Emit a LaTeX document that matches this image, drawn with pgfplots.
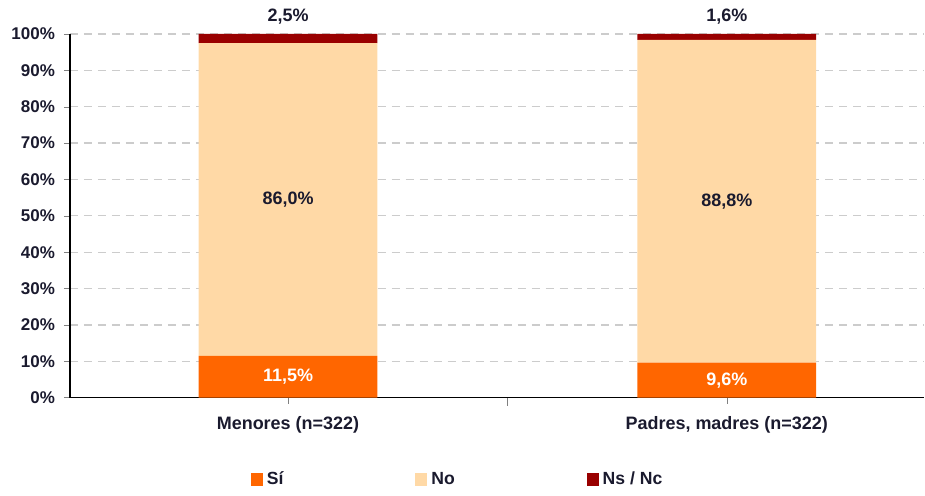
\documentclass[border=0pt]{standalone}
\usepackage{pgfplots}
\pgfplotsset{compat=1.18}
\usepackage{fontspec}
\setmainfont{Liberation Sans}
\definecolor{cSi}{HTML}{FF6600}
\definecolor{cNo}{HTML}{FFD9A6}
\definecolor{cNs}{HTML}{990000}
\definecolor{txtc}{HTML}{1A1A2E}
\begin{document}
\begin{tikzpicture}
\begin{axis}[
  scale only axis,
  width=427.5pt, height=182pt,
  ybar stacked, bar width=0.407,
  xmin=-0.497, xmax=1.45,
  ymin=0, ymax=100,
  xtick={0,1},
  xticklabels={Menores (n=322), {Padres, madres (n=322)}},
  extra x ticks={0.5},
  extra x tick labels={},
  extra x tick style={major tick length=4pt},
  ytick={0,10,...,100},
  yticklabel={\pgfmathprintnumber{\tick}\%},
  /pgf/number format/assume math mode=true,
  tick align=outside,
  major tick length=3pt,
  ymajorgrids,
  grid style={dash pattern=on 4pt off 3pt, draw=gray!40, line width=0.6pt},
  axis x line*=bottom,
  axis y line*=left,
  axis line style={line width=0.8pt, -},
  tick label style={font=\fontsize{8.5}{10}\selectfont\bfseries, text=txtc},
  yticklabel style={xshift=-1pt},
  xticklabel style={yshift=-3pt, font=\fontsize{9}{10}\selectfont\bfseries},
  legend columns=3,
  legend style={at={(0.455,-0.225)}, anchor=center, draw=none, fill=none,
    font=\fontsize{8.8}{10}\selectfont\bfseries, text=txtc,
    /tikz/every even column/.append style={column sep=64pt}},
  legend image code/.code={\fill[#1] (0pt,-3.3pt) rectangle (6pt,3.3pt);},
]
\addplot[fill=cSi, draw=none] coordinates {(0,11.5) (1,9.6)};
\addplot[fill=cNo, draw=none] coordinates {(0,86.0) (1,88.8)};
\addplot[fill=cNs, draw=none] coordinates {(0,2.5) (1,1.6)};
\legend{Sí, No, Ns / Nc}
\coordinate (s0) at (axis cs:0,5.75);
\coordinate (n0) at (axis cs:0,54.5);
\coordinate (x0) at (axis cs:0,100.8);
\coordinate (s1) at (axis cs:1,4.8);
\coordinate (n1) at (axis cs:1,54.0);
\coordinate (x1) at (axis cs:1,100.8);
\end{axis}
\begin{scope}[every node/.style={font=\fontsize{9}{10}\selectfont\bfseries, text=txtc}]
\node[text=white] at (s0) {11,5\%};
\node at (n0) {86,0\%};
\node[anchor=south] at (x0) {2,5\%};
\node[text=white] at (s1) {9,6\%};
\node at (n1) {88,8\%};
\node[anchor=south] at (x1) {1,6\%};
\end{scope}
\path (current axis.south west) ++(-35pt,-46pt) coordinate (bl);
\path (current axis.north east) ++(0pt,17pt) coordinate (tr);
\path (bl) rectangle (tr);
\end{tikzpicture}
\end{document}
